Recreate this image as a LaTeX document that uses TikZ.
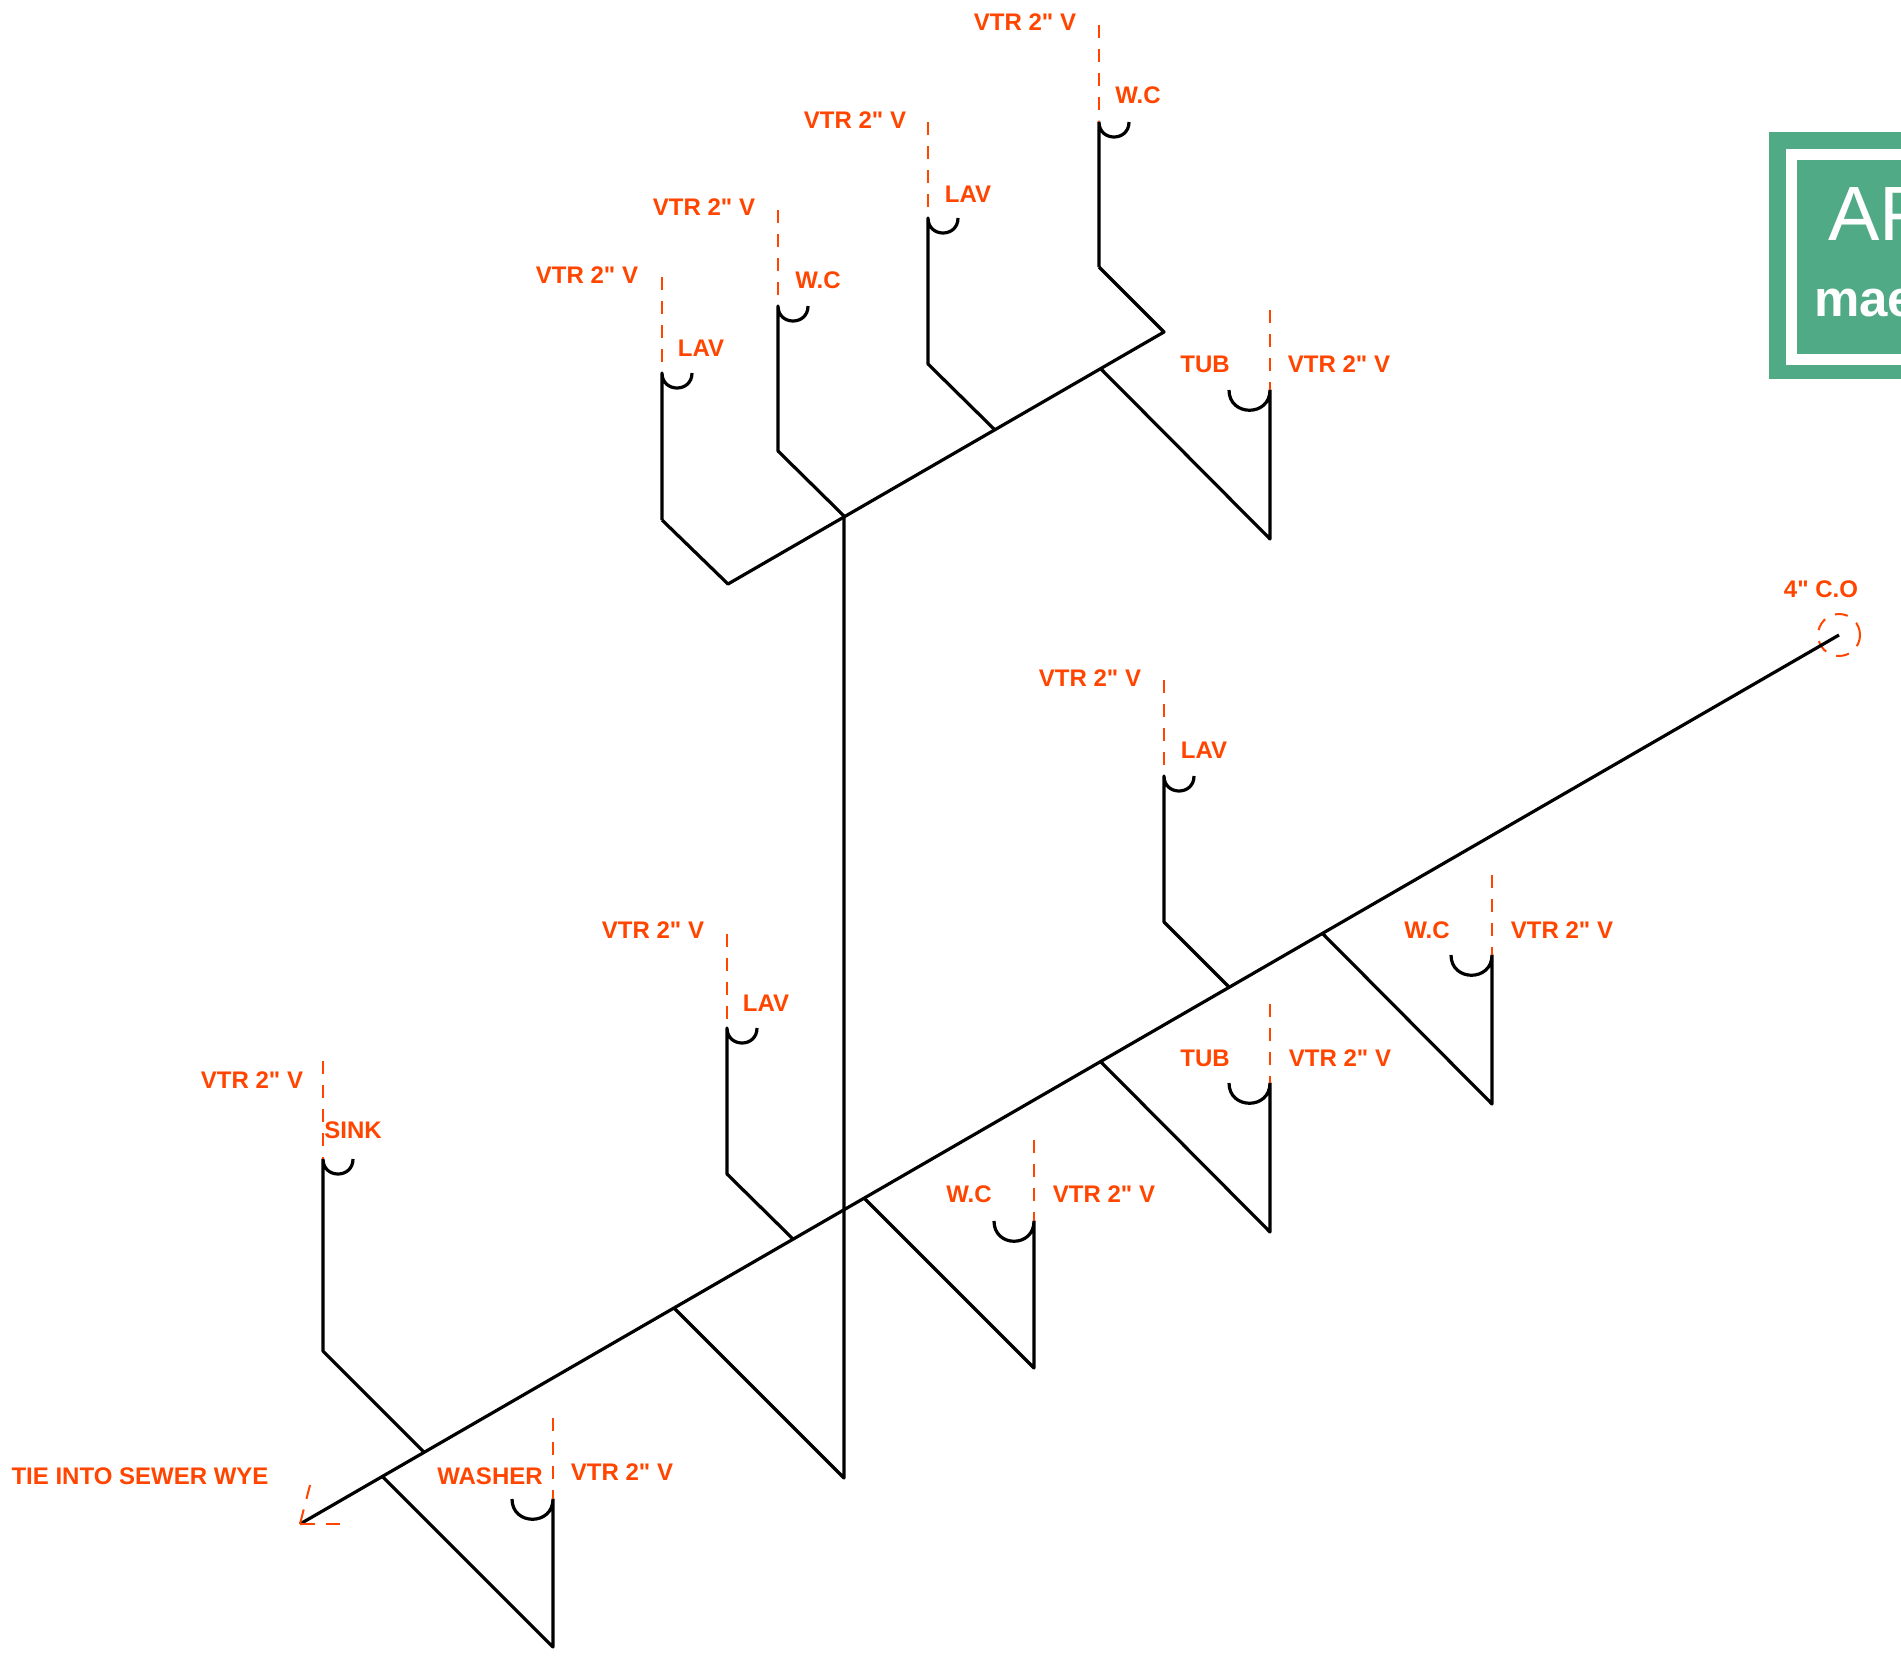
\documentclass[tikz,border=0pt]{standalone}
\usepackage{fontspec}
\newfontfamily\labelfont{Liberation Sans}
\usetikzlibrary{positioning}
\definecolor{vtrred}{HTML}{FF4500}
\definecolor{badge}{HTML}{50AA85}
\tikzstyle{pipe} = [draw, black, line width=3.2pt, line join=round]
\tikzstyle{vent} = [draw, vtrred, line width=2pt, dash pattern=on 13pt off 11pt]
\tikzstyle{wye} = [draw, vtrred, line width=2pt, dash pattern=on 15pt off 11pt]
\tikzstyle{tag} = [inner sep=0pt, text=vtrred, font=\labelfont\fontsize{24}{24}\selectfont\bfseries]

\begin{document}
\begin{tikzpicture}[x=1pt,y=-1pt]
        \useasboundingbox (0,0) rectangle (1901,1660);
        % Badge
        \begin{scope}
            \clip (0,0) rectangle (1901,1660);
            \fill [badge] (1769,132) rectangle (1901,379);
            \fill [white] (1786,149) rectangle (1901,365);
            \fill [badge] (1797,160) rectangle (1901,354);
            \node [anchor=base west, inner sep=0pt, text=white, font=\labelfont\fontsize{77}{77}\selectfont] (brand) at (1828,240) {AP};
            \node [anchor=base west, inner sep=0pt, text=white, font=\labelfont\fontsize{51}{51}\selectfont\bfseries] (site) at (1814,316) {mae};
        \end{scope}
        % Place main line
        \coordinate (tie) at (300,1524);
        \coordinate (tieup) at (310,1485);
        \coordinate (tieside) at (340,1524);
        \node [draw, vtrred, circle, inner sep=0pt, minimum size=42pt, line width=2pt, dash pattern=on 13pt off 11pt] (cleanout) at (1839,635) {};
        \node [tag] (tielabel) at (140,1476) {TIE INTO SEWER WYE};
        \node [tag] (colabel) at (1821,589) {4" C.O};
        % Washer
        \coordinate (joinA) at (383,1477);
        \coordinate (bendA) at (553,1647);
        \coordinate (trapA) at (553,1499);
        \coordinate (lipA) at (512,1499);
        \coordinate (ventA) at (553,1418);
        \node [tag] (fixA) at (490,1476) {WASHER};
        \node [tag] (vtrA) at (622,1472) {VTR 2" V};
        % Sink
        \coordinate (joinB) at (424,1452);
        \coordinate (bendB) at (323,1351);
        \coordinate (trapB) at (323,1159);
        \coordinate (lipB) at (353,1159);
        \coordinate (ventB) at (323,1061);
        \node [tag] (fixB) at (353,1130) {SINK};
        \node [tag] (vtrB) at (252,1080) {VTR 2" V};
        % Riser
        \coordinate (joinC) at (674,1308);
        \coordinate (bendC) at (844,1478);
        \coordinate (topC) at (844,516);
        % Lower lav
        \coordinate (joinD) at (793,1239);
        \coordinate (bendD) at (727,1174);
        \coordinate (trapD) at (727,1028);
        \coordinate (lipD) at (757,1028);
        \coordinate (ventD) at (727,934);
        \node [tag] (fixD) at (766,1003) {LAV};
        \node [tag] (vtrD) at (653,930) {VTR 2" V};
        % Lower w.c
        \coordinate (joinE) at (864,1198);
        \coordinate (bendE) at (1034,1368);
        \coordinate (trapE) at (1034,1221);
        \coordinate (lipE) at (994,1221);
        \coordinate (ventE) at (1034,1140);
        \node [tag] (fixE) at (969,1194) {W.C};
        \node [tag] (vtrE) at (1104,1194) {VTR 2" V};
        % Lower tub
        \coordinate (joinF) at (1101,1062);
        \coordinate (bendF) at (1270,1232);
        \coordinate (trapF) at (1270,1083);
        \coordinate (lipF) at (1229,1083);
        \coordinate (ventF) at (1270,1004);
        \node [tag] (fixF) at (1205,1058) {TUB};
        \node [tag] (vtrF) at (1340,1058) {VTR 2" V};
        % Right lav
        \coordinate (joinG) at (1229,987);
        \coordinate (bendG) at (1164,922);
        \coordinate (trapG) at (1164,776);
        \coordinate (lipG) at (1194,776);
        \coordinate (ventG) at (1164,680);
        \node [tag] (fixG) at (1204,750) {LAV};
        \node [tag] (vtrG) at (1090,678) {VTR 2" V};
        % Right w.c
        \coordinate (joinH) at (1323,934);
        \coordinate (bendH) at (1492,1104);
        \coordinate (trapH) at (1492,955);
        \coordinate (lipH) at (1451,955);
        \coordinate (ventH) at (1492,875);
        \node [tag] (fixH) at (1427,930) {W.C};
        \node [tag] (vtrH) at (1562,930) {VTR 2" V};
        % Upper line
        \coordinate (upperL) at (728,584);
        \coordinate (upperR) at (1164,332);
        % Upper left lav
        \coordinate (bendI) at (662,520);
        \coordinate (trapI) at (662,373);
        \coordinate (lipI) at (692,373);
        \coordinate (ventI) at (662,277);
        \node [tag] (fixI) at (701,348) {LAV};
        \node [tag] (vtrI) at (587,275) {VTR 2" V};
        % Upper w.c
        \coordinate (bendJ) at (778,451);
        \coordinate (trapJ) at (778,306);
        \coordinate (lipJ) at (808,306);
        \coordinate (ventJ) at (778,210);
        \node [tag] (fixJ) at (818,280) {W.C};
        \node [tag] (vtrJ) at (704,207) {VTR 2" V};
        % Upper lav
        \coordinate (joinK) at (994,429);
        \coordinate (bendK) at (928,364);
        \coordinate (trapK) at (928,218);
        \coordinate (lipK) at (958,218);
        \coordinate (ventK) at (928,122);
        \node [tag] (fixK) at (968,194) {LAV};
        \node [tag] (vtrK) at (855,120) {VTR 2" V};
        % Top w.c
        \coordinate (bendL) at (1099,267);
        \coordinate (trapL) at (1099,122);
        \coordinate (lipL) at (1129,122);
        \coordinate (ventL) at (1099,25);
        \node [tag] (fixL) at (1138,95) {W.C};
        \node [tag] (vtrL) at (1025,22) {VTR 2" V};
        % Upper tub
        \coordinate (joinM) at (1101,369);
        \coordinate (bendM) at (1270,539);
        \coordinate (trapM) at (1270,390);
        \coordinate (lipM) at (1229,390);
        \coordinate (ventM) at (1270,310);
        \node [tag] (fixM) at (1205,364) {TUB};
        \node [tag] (vtrM) at (1339,364) {VTR 2" V};
        % Draw edges
        \path [pipe] (tie) -- (cleanout.center);
        \path [wye] (tie) -- (tieup);
        \path [wye] (tie) -- (tieside);
        \path [pipe] (joinC) -- (bendC) -- (topC);
        \path [pipe] (bendI) -- (upperL) -- (upperR) -- (bendL);
        \path [pipe] (topC) -- (bendJ) -- (trapJ) .. controls +(0,20) and +(0,20) .. (lipJ);
        \path [pipe] (bendI) -- (trapI) .. controls +(0,20) and +(0,20) .. (lipI);
        \path [pipe] (bendL) -- (trapL) .. controls +(0,20) and +(0,20) .. (lipL);
        \path [pipe] (joinA) -- (bendA) -- (trapA) .. controls +(0,27) and +(0,27) .. (lipA);
        \path [pipe] (joinB) -- (bendB) -- (trapB) .. controls +(0,20) and +(0,20) .. (lipB);
        \path [pipe] (joinD) -- (bendD) -- (trapD) .. controls +(0,20) and +(0,20) .. (lipD);
        \path [pipe] (joinE) -- (bendE) -- (trapE) .. controls +(0,27) and +(0,27) .. (lipE);
        \path [pipe] (joinF) -- (bendF) -- (trapF) .. controls +(0,27) and +(0,27) .. (lipF);
        \path [pipe] (joinG) -- (bendG) -- (trapG) .. controls +(0,20) and +(0,20) .. (lipG);
        \path [pipe] (joinH) -- (bendH) -- (trapH) .. controls +(0,27) and +(0,27) .. (lipH);
        \path [pipe] (joinK) -- (bendK) -- (trapK) .. controls +(0,20) and +(0,20) .. (lipK);
        \path [pipe] (joinM) -- (bendM) -- (trapM) .. controls +(0,27) and +(0,27) .. (lipM);
        \path [vent] (ventA) -- (trapA);
        \path [vent] (ventB) -- (trapB);
        \path [vent] (ventD) -- (trapD);
        \path [vent] (ventE) -- (trapE);
        \path [vent] (ventF) -- (trapF);
        \path [vent] (ventG) -- (trapG);
        \path [vent] (ventH) -- (trapH);
        \path [vent] (ventI) -- (trapI);
        \path [vent] (ventJ) -- (trapJ);
        \path [vent] (ventK) -- (trapK);
        \path [vent] (ventL) -- (trapL);
        \path [vent] (ventM) -- (trapM);
    \end{tikzpicture}
\end{document}
